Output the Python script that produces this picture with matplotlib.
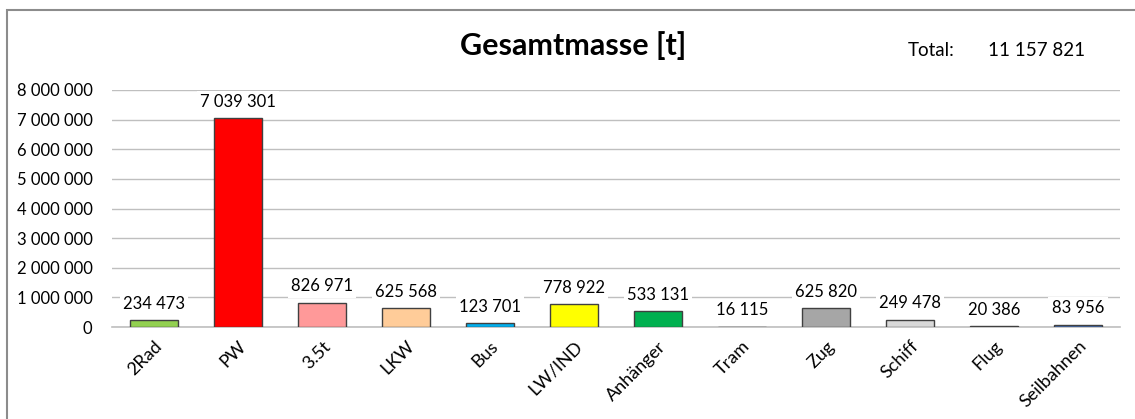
import matplotlib
matplotlib.use("Agg")
import matplotlib.pyplot as plt
from matplotlib.patches import Rectangle
from matplotlib.ticker import FuncFormatter

categories = ["2Rad", "PW", "3.5t", "LKW", "Bus", "LW/IND", "Anhänger", "Tram", "Zug", "Schiff", "Flug", "Seilbahnen"]
values = [234473, 7039301, 826971, 625568, 123701, 778922, 533131, 16115, 625820, 249478, 20386, 83956]
colors = ["#92D050", "#FF0000", "#FF9999", "#FFCC99", "#00B0F0", "#FFFF00", "#00B050",
          "#595959", "#A6A6A6", "#D9D9D9", "#595959", "#4472C4"]
total_label = "11 157 821"
title = "Gesamtmasse [t]"

plt.rcParams['font.family'] = ['Lato', 'DejaVu Sans']

def fmt(v):
    return f"{int(v):,}".replace(",", " ")

fig = plt.figure(figsize=(11.35, 4.19), dpi=100)
# chart border
fig.patches.append(Rectangle((7/1135, -0.1), 1.2, 1 - 10/419 + 0.1, transform=fig.transFigure,
                             fill=False, edgecolor="#8C8C8C", linewidth=1.5))
ax = fig.add_axes([112/1135, 1 - 327/419, (1120 - 112)/1135, (327 - 90)/419])

x = range(len(categories))
ax.bar(x, values, width=0.58, color=colors, edgecolor="#404040", linewidth=1.0, zorder=3)
ax.set_xlim(-0.5, len(categories) - 0.5)
ax.set_ylim(0, 8000000)
ax.set_yticks(range(0, 8000001, 1000000))
ax.yaxis.set_major_formatter(FuncFormatter(lambda v, p: fmt(v)))
ax.grid(axis="y", color="#BFBFBF", linewidth=1.0, zorder=0)
ax.set_axisbelow(True)
for s in ["top", "right", "left"]:
    ax.spines[s].set_visible(False)
ax.spines["bottom"].set_color("#BFBFBF")
ax.spines["bottom"].set_linewidth(1.2)
ax.tick_params(axis="both", length=0, labelsize=12, colors="black")
ax.tick_params(axis="y", pad=14)
ax.tick_params(axis="x", pad=8)
ax.set_xticks(list(x))
ax.set_xticklabels(categories, rotation=45, ha="right", rotation_mode="anchor", fontsize=13)

for i, v in enumerate(values):
    ax.annotate(fmt(v), (i, v), xytext=(0, 6), textcoords="offset points",
                ha="center", va="bottom", fontsize=12, zorder=4,
                bbox=dict(boxstyle="square,pad=0.2", facecolor="white", edgecolor="none"))

fig.text(573/1135, 1 - 46/419, title, ha="center", va="center", fontsize=22, fontweight="bold")
fig.text(908/1135, 1 - 51/419, "Total:", ha="left", va="center", fontsize=13.5)
fig.text(988/1135, 1 - 51/419, total_label, ha="left", va="center", fontsize=13.5)

fig.savefig("out.png", dpi=100)
